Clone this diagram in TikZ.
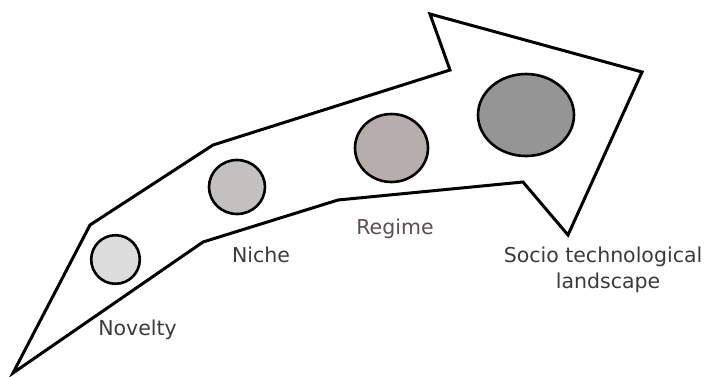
\documentclass[tikz,border=0pt]{standalone}
\usepackage{fontspec}
\setmainfont{DejaVu Sans}
\definecolor{txt}{HTML}{3A3A3A}
\definecolor{regtxt}{HTML}{5A4F4F}
\definecolor{fnov}{HTML}{DCDCDC}
\definecolor{fniche}{HTML}{C3C0C0}
\definecolor{freg}{HTML}{B8ADAD}
\definecolor{fland}{HTML}{959595}
\begin{document}
\begin{tikzpicture}[x=1pt,y=-1pt,
  outline/.style={draw=black,line width=3pt,line join=miter},
  bubble/.style={draw=black,line width=2.6pt},
  lbl/.style={anchor=base,inner sep=0pt,text=txt,font=\fontsize{20.5}{24}\selectfont}]
\useasboundingbox (0,0) rectangle (710,376);
\draw[outline,fill=white] (13,373) -- (90,225) -- (213,145) -- (450,70) -- (430,14)
  -- (642,72) -- (568,235) -- (523,182) -- (338,200) -- (203,242) -- cycle;
\draw[bubble,fill=fnov] (115.5,259.5) ellipse [x radius=24.3,y radius=24.3];
\draw[bubble,fill=fniche] (237,187) ellipse [x radius=28,y radius=27];
\draw[bubble,fill=freg] (391.5,148) ellipse [x radius=36.5,y radius=34];
\draw[bubble,fill=fland] (526,115) ellipse [x radius=48,y radius=41];
\node[lbl] (novelty) at (137.5,335) {Novelty};
\node[lbl] (niche) at (261,262) {Niche};
\node[lbl,text=regtxt] (regime) at (395,234) {Regime};
\node[lbl] (socio) at (603,262) {Socio technological};
\node[lbl] (landscape) at (608,288) {landscape};
\end{tikzpicture}
\end{document}
